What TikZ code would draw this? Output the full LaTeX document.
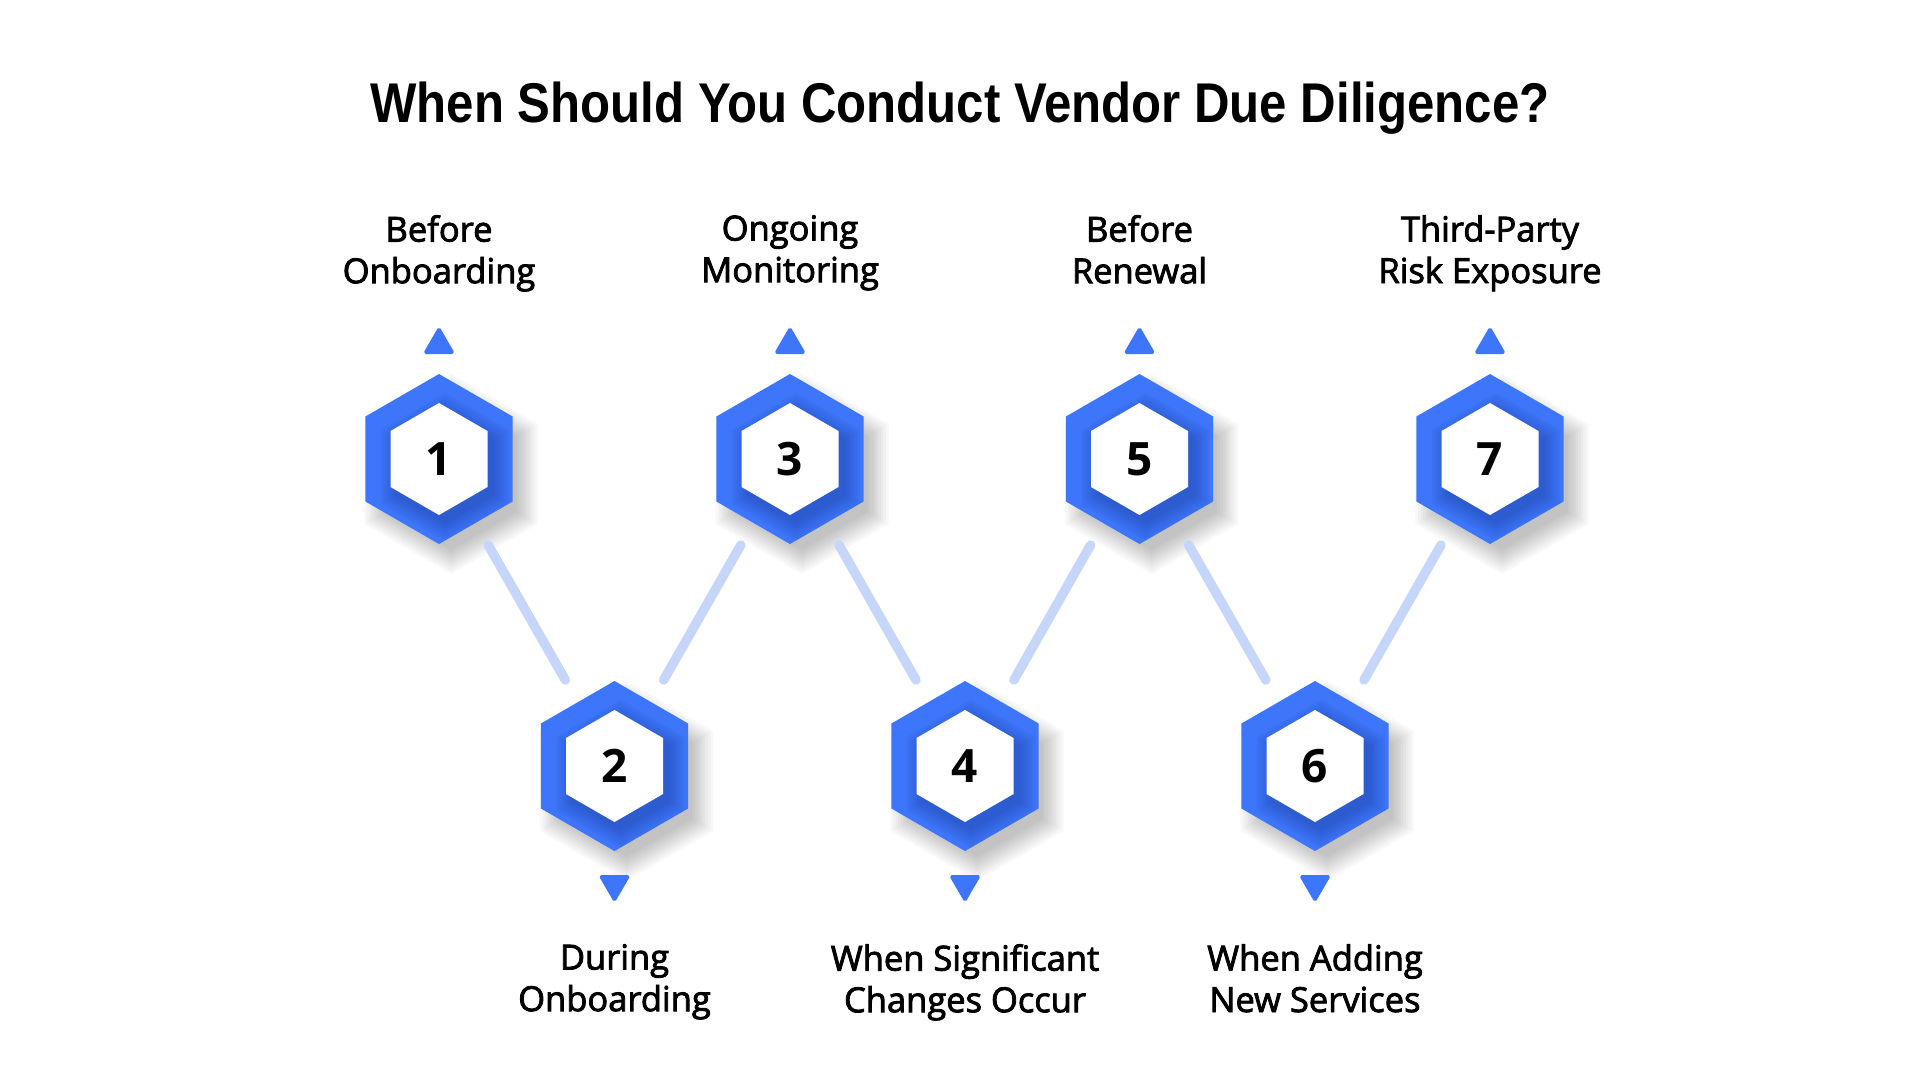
\documentclass[tikz,border=0pt]{standalone}
\usepackage{fontspec}
\setmainfont{Open Sans}
\newfontfamily\titlefont{Liberation Sans}
\newfontfamily\FakeMed{Open Sans}[FakeBold=2.4]
\usetikzlibrary{calc}
\definecolor{hexblue}{HTML}{3D76FA}
\definecolor{linkblue}{HTML}{C6D6FA}
\definecolor{deepblue}{HTML}{1B3A99}
\tikzset{
  hexring/.style={fill=hexblue},
  hexcore/.style={fill=white},
  linkline/.style={draw=linkblue, line width=9.5pt, line cap=round, shorten <=99pt, shorten >=99pt},
  marker/.style={fill=hexblue, draw=hexblue, line width=2pt, line join=round, rounded corners=1.5pt},
  numtext/.style={inner sep=0pt, font=\fontsize{46}{46}\selectfont\bfseries, text=black},
  labeltext/.style={inner sep=0pt, align=center, anchor=north, font=\fontsize{34.5}{41.6}\selectfont\FakeMed, text=black},
}
\begin{document}
\begin{tikzpicture}[x=1pt,y=-1pt]
\fill[white] (0,0) rectangle (1920,1080);
\useasboundingbox (0,0) rectangle (1920,1080);
\node[anchor=base, inner sep=0pt, font=\fontsize{56}{56}\selectfont\titlefont\bfseries] (title) at (960,122) {\scalebox{0.878}[1]{When Should You Conduct Vendor Due Diligence?}};
% centres
\coordinate (c1) at (439,459);
\coordinate (c2) at (614.5,766);
\coordinate (c3) at (790,459);
\coordinate (c4) at (965,766);
\coordinate (c5) at (1139.5,459);
\coordinate (c6) at (1315,766);
\coordinate (c7) at (1490,459);
% shadows and hexagons
\foreach \i in {1,...,7}{
  \foreach \r in {100,97,94,91,88,85,82,79,76}{
    \fill[black, opacity=0.026] ($(c\i)+(12,15)+(90:\r)$) -- ($(c\i)+(12,15)+(150:\r)$) -- ($(c\i)+(12,15)+(210:\r)$) -- ($(c\i)+(12,15)+(270:\r)$) -- ($(c\i)+(12,15)+(330:\r)$) -- ($(c\i)+(12,15)+(30:\r)$) -- cycle;
  }
  \fill[hexring] ($(c\i)+(90:85)$) -- ($(c\i)+(150:85)$) -- ($(c\i)+(210:85)$) -- ($(c\i)+(270:85)$) -- ($(c\i)+(330:85)$) -- ($(c\i)+(30:85)$) -- cycle;
  \begin{scope}
    \clip ($(c\i)+(90:85)$) -- ($(c\i)+(150:85)$) -- ($(c\i)+(210:85)$) -- ($(c\i)+(270:85)$) -- ($(c\i)+(330:85)$) -- ($(c\i)+(30:85)$) -- cycle;
    \foreach \r in {74,71,68,65,62,59,57}{
      \fill[deepblue, opacity=0.07] ($(c\i)+(6,8)+(90:\r)$) -- ($(c\i)+(6,8)+(150:\r)$) -- ($(c\i)+(6,8)+(210:\r)$) -- ($(c\i)+(6,8)+(270:\r)$) -- ($(c\i)+(6,8)+(330:\r)$) -- ($(c\i)+(6,8)+(30:\r)$) -- cycle;
    }
  \end{scope}
  \fill[hexcore] ($(c\i)+(90:56)$) -- ($(c\i)+(150:56)$) -- ($(c\i)+(210:56)$) -- ($(c\i)+(270:56)$) -- ($(c\i)+(330:56)$) -- ($(c\i)+(30:56)$) -- cycle;
}
% numbers
\node[numtext] (n1) at (c1) {1};
\node[numtext] (n2) at (c2) {2};
\node[numtext] (n3) at (c3) {3};
\node[numtext] (n4) at (c4) {4};
\node[numtext] (n5) at (c5) {5};
\node[numtext] (n6) at (c6) {6};
\node[numtext] (n7) at (c7) {7};
% connectors
\draw[linkline] (n1.center) -- (n2.center);
\draw[linkline] (n2.center) -- (n3.center);
\draw[linkline] (n3.center) -- (n4.center);
\draw[linkline] (n4.center) -- (n5.center);
\draw[linkline] (n5.center) -- (n6.center);
\draw[linkline] (n6.center) -- (n7.center);
% markers
\foreach \i in {1,3,5,7}{
  \filldraw[marker] ($(c\i)+(-14.5,-106)$) -- ($(c\i)+(14.5,-106)$) -- ($(c\i)+(0,-131)$) -- cycle;
}
\foreach \i in {2,4,6}{
  \filldraw[marker] ($(c\i)+(-14.5,110)$) -- ($(c\i)+(14.5,110)$) -- ($(c\i)+(0,135)$) -- cycle;
}
% labels
\node[labeltext] (l1) at ($(c1)+(0,-244)$) {Before\\Onboarding};
\node[labeltext] (l3) at ($(c3)+(0,-244)$) {Ongoing\\Monitoring};
\node[labeltext] (l5) at ($(c5)+(0,-244)$) {Before\\Renewal};
\node[labeltext] (l7) at ($(c7)+(0,-244)$) {Third-Party\\Risk Exposure};
\node[labeltext] (l2) at ($(c2)+(0,178)$) {During\\Onboarding};
\node[labeltext] (l4) at ($(c4)+(0,178)$) {When Significant\\Changes Occur};
\node[labeltext] (l6) at ($(c6)+(0,178)$) {When Adding\\New Services};
\end{tikzpicture}
\end{document}
